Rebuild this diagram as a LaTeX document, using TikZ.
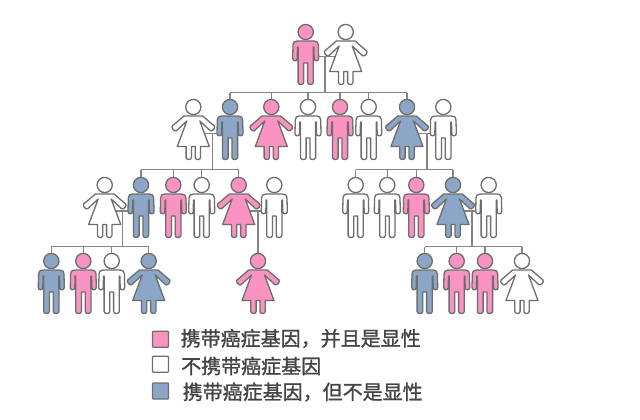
\documentclass[tikz,border=0pt]{standalone}
\usepackage{fontspec}
\newfontfamily\cjk[FakeBold=1.2]{Noto Sans CJK SC}
\definecolor{pinkc}{HTML}{FA92C2}
\definecolor{bluec}{HTML}{8BA6C6}
\definecolor{whitec}{HTML}{FFFFFF}
\definecolor{edgec}{HTML}{6E6E6E}
\definecolor{linec}{HTML}{858585}
\definecolor{textc}{HTML}{444444}
\tikzset{
  figline/.style={draw=edgec,line width=1.3pt,line join=round},
  conn/.style={draw=linec,line width=1.4pt},
  legbox/.style={draw=edgec,line width=1.3pt,minimum size=16pt,inner sep=0pt,rounded corners=0.8pt},
  legtext/.style={anchor=west,text=textc,inner sep=0pt,font=\cjk\fontsize{20}{20}\selectfont},
  pics/man/.style={code={
    \path[figline,pic actions] (0,0) circle (7.6);
    \path[figline,pic actions]
      (0,9) -- (8.5,9)
      .. controls (11.5,9) and (12.6,10.5) .. (12.7,13)
      -- (13,26.5) .. controls (13,29.5) and (8.7,29.5) .. (8.5,27)
      -- (8.2,15) -- (7.6,15) -- (7.6,50.5)
      .. controls (7.6,53.2) and (1.9,53.2) .. (1.9,50.5)
      -- (1.9,31) -- (-1.9,31) -- (-1.9,50.5)
      .. controls (-1.9,53.2) and (-7.6,53.2) .. (-7.6,50.5)
      -- (-7.6,15) -- (-8.2,15) -- (-8.5,27)
      .. controls (-8.7,29.5) and (-13,29.5) .. (-13,26.5)
      -- (-12.7,13) .. controls (-12.6,10.5) and (-11.5,9) .. (-8.5,9) -- cycle;
    \draw[edgec,line width=1.6pt] (7.9,15) -- (7.9,28) (-7.9,15) -- (-7.9,28);
  }},
  pics/woman/.style={code={
    \path[figline,pic actions] (0,0) circle (7.6);
    \path[figline,pic actions]
      (0,9) -- (9.3,9) -- (21,19) .. controls (22.5,20.5) and (19,25) .. (17,23.8)
      -- (6.5,14) -- (16,39.5) -- (7.2,39.5) -- (7.2,50.5)
      .. controls (7.2,53.2) and (1.9,53.2) .. (1.9,50.5)
      -- (1.9,39.5) -- (-1.9,39.5) -- (-1.9,50.5)
      .. controls (-1.9,53.2) and (-7.2,53.2) .. (-7.2,50.5)
      -- (-7.2,39.5) -- (-16,39.5) -- (-6.5,14) -- (-17,23.8)
      .. controls (-19,25) and (-22.5,20.5) .. (-21,19) -- (-9.3,9) -- cycle;
  }}
}
\begin{document}
\begin{tikzpicture}[x=1pt,y=-1pt]
\useasboundingbox[fill=white] (0,0) rectangle (640,420);
% generation 1
\coordinate (a1) at (305.7,32);
\coordinate (a2) at (345.7,32);
% generation 2
\coordinate (b1) at (193.3,107);
\coordinate (b2) at (230,107);
\coordinate (b3) at (271.3,107);
\coordinate (b4) at (308,107);
\coordinate (b5) at (340,107);
\coordinate (b6) at (368.7,107);
\coordinate (b7) at (407,107);
\coordinate (b8) at (443.3,107);
% generation 3
\coordinate (c1) at (104.7,185);
\coordinate (c2) at (141,185);
\coordinate (c3) at (173.3,185);
\coordinate (c4) at (201.7,185);
\coordinate (c5) at (238.7,185);
\coordinate (c6) at (274.3,185);
\coordinate (c7) at (355.7,185);
\coordinate (c8) at (387.3,185);
\coordinate (c9) at (416.3,185);
\coordinate (c10) at (453,185);
\coordinate (c11) at (488.7,185);
% generation 4
\coordinate (d1) at (51.3,261);
\coordinate (d2) at (83.3,261);
\coordinate (d3) at (111.7,261);
\coordinate (d4) at (148.7,261);
\coordinate (d5) at (258,261);
\coordinate (d6) at (424.7,261);
\coordinate (d7) at (456.7,261);
\coordinate (d8) at (485,261);
\coordinate (d9) at (522,261);
% junctions
\coordinate (ja) at (325,56.7);  \coordinate (busa) at (325,92.7);
\coordinate (jb) at (212.3,133.3); \coordinate (busb) at (212.3,169.6);
\coordinate (jc) at (427,133.3);   \coordinate (busc) at (427,169.6);
\coordinate (jd) at (122.3,211);   \coordinate (busd) at (122.3,246.7);
\coordinate (je) at (258,211);
\coordinate (jf) at (472,211);     \coordinate (busf) at (472,246.7);
% connectors
\draw[conn] (a1 |- ja) -- (a2 |- ja);
\draw[conn] (ja) -- (busa);
\draw[conn] (b2 |- busa) -- (b7 |- busa);
\foreach \k in {b2,b3,b4,b5,b6,b7} \draw[conn] (\k |- busa) -- (\k);
\draw[conn] (b1 |- jb) -- (b2 |- jb);
\draw[conn] (jb) -- (busb);
\draw[conn] (c2 |- busb) -- (c5 |- busb);
\foreach \k in {c2,c3,c4,c5} \draw[conn] (\k |- busb) -- (\k);
\draw[conn] (b7 |- jc) -- (b8 |- jc);
\draw[conn] (jc) -- (busc);
\draw[conn] (c7 |- busc) -- (c10 |- busc);
\foreach \k in {c7,c8,c9,c10} \draw[conn] (\k |- busc) -- (\k);
\draw[conn] (c1 |- jd) -- (c2 |- jd);
\draw[conn] (jd) -- (busd);
\draw[conn] (d1 |- busd) -- (d4 |- busd);
\foreach \k in {d1,d2,d3,d4} \draw[conn] (\k |- busd) -- (\k);
\draw[conn] (c5 |- je) -- (c6 |- je);
\draw[conn] (je) -- (d5);
\draw[conn] (c10 |- jf) -- (c11 |- jf);
\draw[conn] (jf) -- (busf);
\draw[conn] (d6 |- busf) -- (d9 |- busf);
\foreach \k in {d6,d7,d8,d9} \draw[conn] (\k |- busf) -- (\k);
% figures
\foreach \k/\c in {a1/pinkc,b2/bluec,b4/whitec,b5/pinkc,b6/whitec,b8/whitec,c2/bluec,c3/pinkc,c4/whitec,c6/whitec,c7/whitec,c8/whitec,c9/pinkc,c11/whitec,d1/bluec,d2/pinkc,d3/whitec,d6/bluec,d7/pinkc,d8/pinkc}
  \pic[fill=\c] at (\k) {man};
\foreach \k/\c in {a2/whitec,b1/whitec,b3/pinkc,b7/bluec,c1/whitec,c5/pinkc,c10/bluec,d4/bluec,d5/pinkc,d9/whitec}
  \pic[fill=\c] at (\k) {woman};
% legend
\node[legbox,fill=pinkc] (k1) at (160.5,339.3) {};
\node[legbox,fill=whitec] (k2) at (160.5,364.3) {};
\node[legbox,fill=bluec] (k3) at (160.5,391) {};
\node[legtext] (t1) at (180.5,338.5) {携带癌症基因，并且是显性};
\node[legtext] (t2) at (181,366) {不携带癌症基因};
\node[legtext] (t3) at (182.5,392) {携带癌症基因，但不是显性};
\end{tikzpicture}
\end{document}
